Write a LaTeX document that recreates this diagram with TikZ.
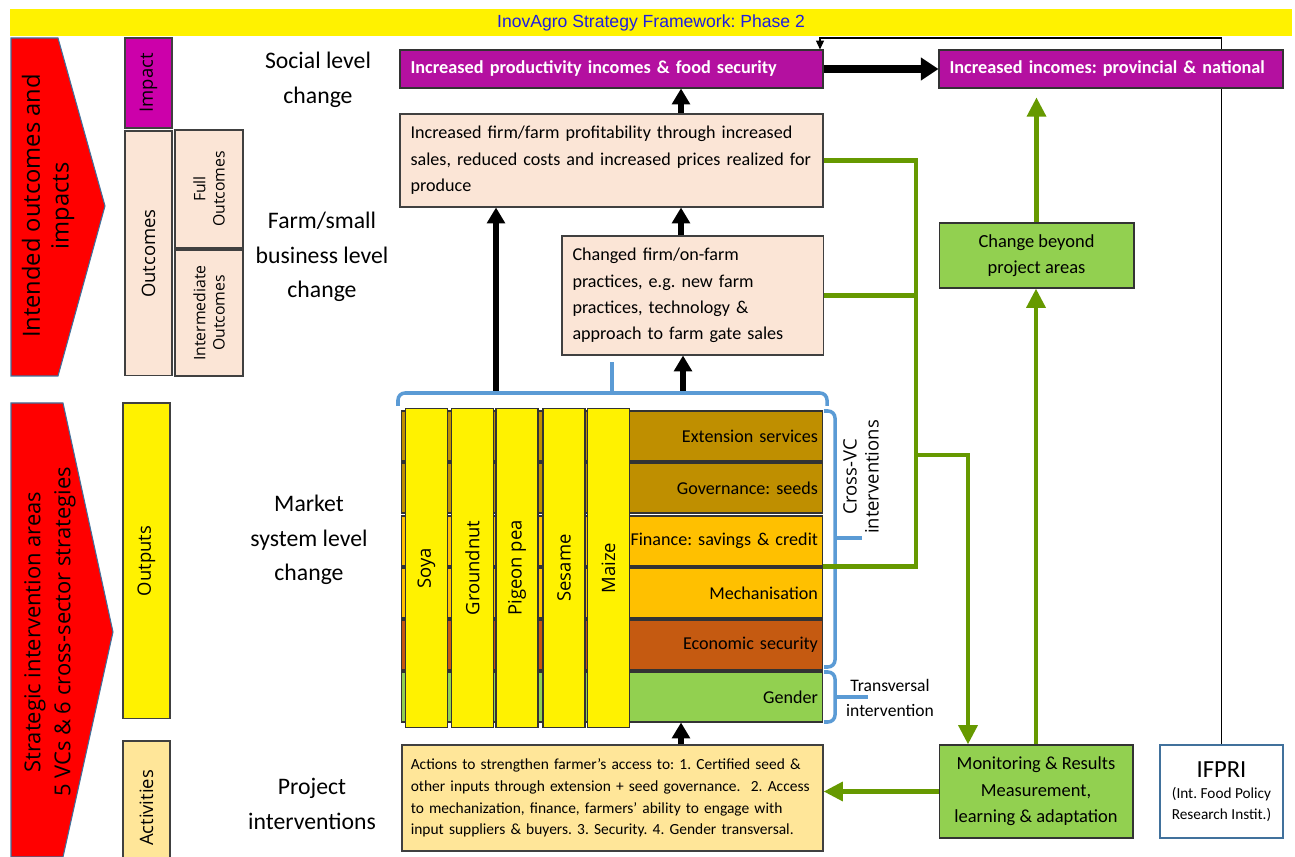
\documentclass[tikz,border=0pt]{standalone}
\usepackage{fontspec}
\setmainfont{Carlito}
\newfontfamily\osans{Open Sans}
\newfontfamily\arialfont{Liberation Sans}
\usetikzlibrary{arrows.meta,backgrounds}
\frenchspacing

\definecolor{impactmag}{RGB}{204,0,170}
\definecolor{goalpurple}{RGB}{180,16,160}
\definecolor{peach}{RGB}{251,229,214}
\definecolor{lightorange}{RGB}{255,230,153}
\definecolor{darkgold}{RGB}{191,143,0}
\definecolor{gold}{RGB}{255,192,0}
\definecolor{rust}{RGB}{197,90,17}
\definecolor{leaf}{RGB}{146,208,80}
\definecolor{olive}{RGB}{102,153,0}
\definecolor{bracketblue}{RGB}{91,155,213}
\definecolor{edgeblue}{RGB}{65,113,156}
\definecolor{titleblue}{RGB}{30,30,225}

\begin{document}
\begin{tikzpicture}[
    x=0.02cm, y=-0.02cm,
    titlebar/.style={rectangle, fill=yellow, minimum width=25.64cm, minimum height=0.54cm, inner sep=0pt, text=titleblue, font=\arialfont\fontsize{10}{12}\selectfont},
    redarrow/.style={fill=red, draw=edgeblue, line width=0.6pt},
    redlabel/.style={rotate=90, align=center, font=\osans\fontsize{13.5}{16.4}\selectfont},
    sidebox/.style={rectangle, draw=black!75, line width=0.6pt, rotate=90, inner sep=1pt, align=center, font=\osans\fontsize{10.5}{12}\selectfont},
    levellabel/.style={align=center, font=\fontsize{13.5}{19.8}\selectfont},
    goal/.style={rectangle, draw=black!80, line width=0.6pt, fill=goalpurple, text=white, minimum height=0.76cm, inner xsep=6pt, align=left, font=\bfseries\fontsize{10.4}{12}\selectfont},
    result/.style={rectangle, draw=black!75, line width=0.6pt, fill=peach, inner xsep=6pt, align=left, font=\fontsize{10.3}{15}\selectfont},
    vcrow/.style={rectangle, draw=black!80, line width=0.6pt, minimum width=8.44cm, minimum height=1cm, text width=8.24cm, inner xsep=0.1cm, align=right, font=\fontsize{10.3}{12}\selectfont},
    vccol/.style={rectangle, draw=black!80, line width=0.6pt, fill=yellow, rotate=90, minimum width=6.4cm, minimum height=0.84cm, font=\osans\fontsize{10.5}{12}\selectfont},
    greenbox/.style={rectangle, draw=black!80, line width=0.6pt, fill=leaf, minimum width=3.88cm, align=center, font=\fontsize{10.5}{15}\selectfont},
    bracket/.style={draw=bracketblue, line width=2pt, rounded corners=4pt},
    blackarrow/.style={-{Triangle[width=10pt,length=9pt]}, line width=3pt},
    widearrow/.style={-{Triangle[width=12.5pt,length=10pt]}, line width=5pt},
    greenline/.style={draw=olive, line width=2.8pt},
    greenarrow/.style={greenline, -{Triangle[width=10.5pt,length=11pt]}},
    thinarrow/.style={-{Triangle[width=4.5pt,length=5pt]}, line width=0.6pt}
]
\useasboundingbox (0,0) rectangle (1295,857);
\clip (0,0) rectangle (1295,857);

% Title
\node[titlebar] (title) at (651,22.5) {InovAgro Strategy Framework: Phase 2};

% Red arrows (left)
\draw[redarrow] (11,38) -- (58,38) -- (105,206) -- (58,376) -- (11,376) -- cycle;
\node[redlabel] (intended) at (48,206) {Intended outcomes and\\impacts};
\draw[redarrow] (11,403) -- (63,403) -- (113,632) -- (63,857) -- (11,857) -- cycle;
\node[redlabel, font=\osans\fontsize{12.5}{17}\selectfont] (strategic) at (50,632) {Strategic intervention areas\\5 VCs \& 6 cross-sector strategies};

% Result chain columns
\node[sidebox, fill=impactmag, minimum width=1.8cm, minimum height=0.94cm] (impact) at (148.5,83) {Impact};
\node[sidebox, fill=peach, minimum width=4.9cm, minimum height=0.94cm] (outcomes) at (148.5,253.5) {Outcomes};
\node[sidebox, fill=peach, minimum width=2.36cm, minimum height=1.36cm, font=\osans\fontsize{9}{11}\selectfont] (full) at (209,189) {Full\\Outcomes};
\node[sidebox, fill=peach, minimum width=2.52cm, minimum height=1.36cm, font=\osans\fontsize{9}{11}\selectfont] (intermediate) at (209,313) {Intermediate\\Outcomes};
\node[sidebox, fill=yellow, minimum width=6.32cm, minimum height=0.94cm] (outputs) at (146.5,561) {Outputs};
\node[sidebox, fill=lightorange, minimum width=2.68cm, minimum height=0.94cm] (activities) at (146.5,808) {Activities};

% Level labels
\node[levellabel] (social) at (318,80) {Social level\\change};
\node[levellabel] (farm) at (322,257) {Farm/small\\business level\\change};
\node[levellabel] (market) at (309,540) {Market\\system level\\change};
\node[levellabel] (project) at (312,804) {Project\\interventions};

% Impacts and outcomes
\node[goal, text width=8.04cm] (prod) at (611.5,69) {Increased productivity incomes \& food security};
\node[goal, text width=6.46cm] (inc2) at (1111,69) {Increased incomes: provincial \& national};
\node[result, text width=8.04cm, minimum height=1.86cm] (firm) at (611.5,160.5) {Increased firm/farm profitability through increased\\sales, reduced costs and increased prices realized for\\produce};
\node[result, text width=4.8cm, minimum height=2.38cm] (changed) at (692.5,295.5) {Changed firm/on-farm\\practices, e.g. new farm\\practices, technology \&\\approach to farm gate sales};

% Cross-VC rows
\node[vcrow, fill=darkgold] (ext) at (612,436) {Extension services};
\node[vcrow, fill=darkgold] (gov) at (612,488) {Governance: seeds};
\node[vcrow, fill=gold] (fin) at (612,541) {Finance: savings \& credit};
\node[vcrow, fill=gold] (mech) at (612,593) {Mechanisation};
\node[vcrow, fill=rust] (econ) at (612,645) {Economic security};
\node[vcrow, fill=leaf] (gender) at (612,697) {Gender};

% Value chains
\node[vccol] (soya) at (426.5,568) {Soya};
\node[vccol] (groundnut) at (472.5,568) {Groundnut};
\node[vccol] (pigeonpea) at (517,568) {Pigeon pea};
\node[vccol] (sesame) at (564,568) {Sesame};
\node[vccol] (maize) at (608.5,568) {Maize};

% Brackets
\draw[bracket] (398,406) -- (398,393) -- (827,393) -- (827,406);
\draw[bracket] (612,393) -- (612,362);
\draw[bracket] (824,411) -- (835,411) -- (835,667) -- (824,667);
\draw[bracket] (835,538) -- (862,538);
\draw[bracket] (824,672) -- (835,672) -- (835,722) -- (824,722);
\draw[bracket] (835,697) -- (868,697);
\node[sidebox, draw=none, font=\osans\fontsize{10.5}{12.5}\selectfont] (crossvc) at (861,477) {Cross-VC\\interventions};
\node[align=center, font=\fontsize{10}{14.5}\selectfont] (transversal) at (890,698) {Transversal\\intervention};

% Bottom boxes
\node[result, fill=lightorange, text width=8.07cm, minimum height=2.12cm, inner xsep=5pt, font=\fontsize{8.8}{12.3}\selectfont] (actions) at (612.5,798) {Actions to strengthen farmer’s access to: 1. Certified seed \&\\other inputs through extension + seed governance.\ \ 2. Access\\to mechanization, finance, farmers’ ability to engage with\\input suppliers \& buyers. 3. Security. 4. Gender transversal.};
\node[greenbox, minimum height=1.86cm] (monitor) at (1036,791.5) {Monitoring \& Results\\Measurement,\\learning \& adaptation};
\node[greenbox, minimum width=3.9cm, minimum height=1.3cm] (beyond) at (1036.5,255.5) {Change beyond\\project areas};
\node[rectangle, draw=edgeblue, line width=0.8pt, fill=white, minimum width=2.46cm, minimum height=1.86cm, align=center, font=\fontsize{8.7}{12}\selectfont] (ifpri) at (1221.5,791.5) {{\fontsize{14}{17}\selectfont IFPRI}\\(Int. Food Policy\\Research Instit.)};

% Feedback from IFPRI
\begin{pgfonlayer}{background}
\coordinate (fb) at (820,38);
\draw[thinarrow] (ifpri.north) |- (fb) -- (prod.north -| fb);
\end{pgfonlayer}

% Black result chain arrows
\coordinate (ax) at (681,0);
\coordinate (brl) at (496,391);
\coordinate (brr) at (683,391);
\draw[widearrow] (prod) -- (inc2);
\draw[blackarrow] (firm.north -| ax) -- (prod.south -| ax);
\draw[blackarrow] (changed.north -| ax) -- (firm.south -| ax);
\draw[blackarrow] (brr) -- (changed.south -| brr);
\draw[blackarrow] (brl) -- (firm.south -| brl);
\draw[blackarrow] (actions.north -| ax) -- (gender.south -| ax);

% Green monitoring links
\coordinate (gx) at (916,0);
\coordinate (gsplit) at (916,455);
\coordinate (gdown) at (968,0);
\draw[greenline] (firm.east) -- (firm.east -| gx) -- (gx |- fin.south east) -- (fin.south east);
\draw[greenline] (changed.east) -- (changed.east -| gx);
\draw[greenarrow] (gsplit) -| (monitor.north -| gdown);
\draw[greenarrow] (monitor.west) -- (monitor.west -| actions.east);
\draw[greenarrow] (monitor.north) -- (monitor.north |- beyond.south);
\draw[greenarrow, shorten >=5pt] (beyond.north) -- (beyond.north |- inc2.south);

\end{tikzpicture}
\end{document}
